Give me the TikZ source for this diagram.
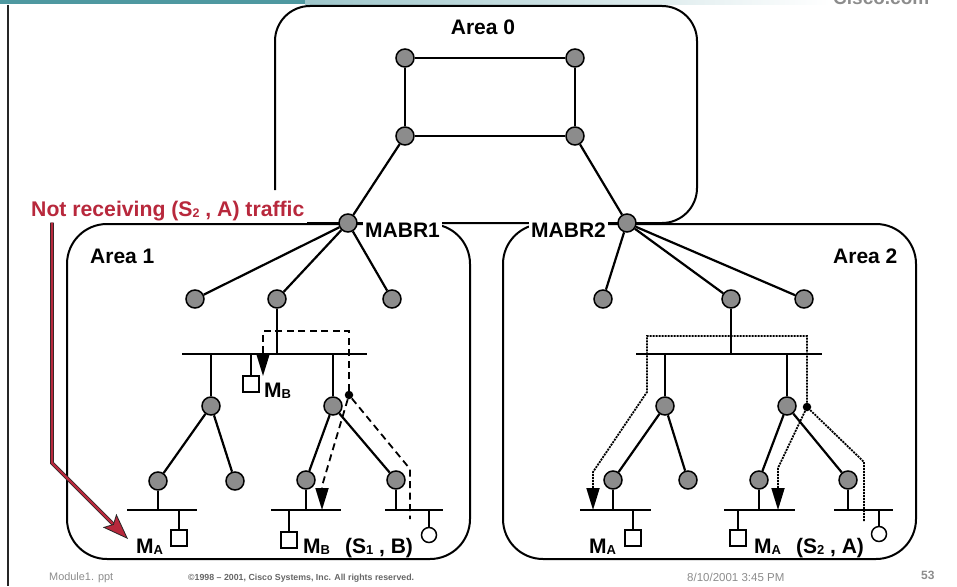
\documentclass[tikz,border=0pt]{standalone}
\usepackage{fontspec}
\setmainfont{Liberation Sans}
\usetikzlibrary{arrows.meta}
\definecolor{rtrfill}{HTML}{8C8C8C}
\definecolor{alertred}{HTML}{B8283C}
\definecolor{banner}{HTML}{4E98A0}
\definecolor{footgray}{HTML}{8C8C8C}
% lowered small index for labels such as M_A, S_1
\newcommand{\lowsub}[1]{\raisebox{-1pt}{\fontsize{13}{13}\selectfont #1}}

\begin{document}
\begin{tikzpicture}[x=1pt, y=-1pt,
  boxline/.style={draw=black, line width=2pt},
  wire/.style={draw=black, line width=2.2pt},
  rtr/.style={circle, draw=black, line width=1.5pt, fill=rtrfill, minimum size=18pt, inner sep=0pt},
  hostsq/.style={rectangle, draw=black, line width=1.5pt, fill=white, minimum size=16pt, inner sep=0pt},
  hostsrc/.style={circle, draw=black, line width=1.5pt, fill=white, minimum size=15pt, inner sep=0pt},
  junct/.style={circle, fill=black, minimum size=8.5pt, inner sep=0pt},
  bigtxt/.style={font=\fontsize{21}{25}\selectfont\bfseries, inner sep=0pt},
  boxtag/.style={bigtxt, fill=white, inner xsep=2pt, inner ysep=2pt},
  flowdash/.style={line width=1.8pt, dash pattern=on 7pt off 4.5pt},
  flowdot/.style={line width=1.8pt, dash pattern=on 2pt off 1pt},
  tipped/.style={-{Triangle[length=22pt,width=13pt]}},
  foottxt/.style={text=footgray, inner sep=0pt, anchor=base west}
]
\useasboundingbox (0,0) rectangle (957,586);

% ---- slide frame ----
\fill[banner] (0,0) rectangle (305,4.5);
\shade[left color=banner!55, right color=white] (305,0) rectangle (830,5);
\begin{scope}
  \clip (820,0) rectangle (957,7);
  \node[anchor=base west, inner sep=0pt, text=footgray, font=\fontsize{19}{22}\selectfont\bfseries] (site) at (833,5) {Cisco.com};
\end{scope}
\draw[line width=1.5pt, black!85] (8,5) -- (8,586);

% ---- area outlines ----
\draw[boxline, rounded corners=35pt] (275,190) -- (275,6) -- (697,6) -- (697,223) -- (307,223);
\draw[boxline, rounded corners=40pt] (67,224) rectangle (470,559);
\draw[boxline, rounded corners=40pt] (503,224) rectangle (916,559);

% ---- area and border-router labels ----
\node[bigtxt, anchor=base] (ar0) at (483,35) {Area 0};
\node[bigtxt, anchor=base west] (ar1) at (90,263) {Area 1};
\node[bigtxt, anchor=base west] (ar2) at (833,263) {Area 2};
\node[boxtag, anchor=base west] (lm1) at (363,237) {MABR1};
\node[boxtag, anchor=base west] (lm2) at (529,237) {MABR2};
\node[anchor=base west, fill=white, inner xsep=2pt, inner ysep=2pt, text=alertred,
      font=\fontsize{21.2}{25}\selectfont\bfseries] (nr) at (29,216)
      {Not receiving (S{\raisebox{-1pt}{\fontsize{12.5}{12}\selectfont 2}} , A) traffic};

% ---- routers ----
\node[rtr] (a0tl) at (405,58) {};
\node[rtr] (a0tr) at (575,58) {};
\node[rtr] (a0bl) at (405,136) {};
\node[rtr] (a0br) at (575,136) {};
\node[rtr] (mabr1) at (348,223) {};
\node[rtr] (mabr2) at (627,223) {};

\node[rtr] (r1a) at (195,299) {};
\node[rtr] (r1b) at (277,299) {};
\node[rtr] (r1c) at (392,299) {};
\node[rtr] (r11) at (211,406) {};
\node[rtr] (r12) at (333,406) {};
\node[rtr] (r111) at (158,481) {};
\node[rtr] (r112) at (235,481) {};
\node[rtr] (r121) at (306,480) {};
\node[rtr] (r122) at (396,480) {};

\node[rtr] (r2a) at (603,299) {};
\node[rtr] (r2b) at (731,299) {};
\node[rtr] (r2c) at (804,299) {};
\node[rtr] (r21) at (665,406) {};
\node[rtr] (r22) at (787,406) {};
\node[rtr] (r211) at (613,480) {};
\node[rtr] (r212) at (688,480) {};
\node[rtr] (r221) at (759,480) {};
\node[rtr] (r222) at (848,480) {};

% ---- hosts ----
\node[hostsq] (hb1) at (251,384) {};
\node[hostsq] (ha1) at (179,538) {};
\node[hostsq] (hb2) at (289,540) {};
\node[hostsrc] (src1) at (429,535) {};
\node[hostsq] (ha2) at (633,538) {};
\node[hostsq] (ha3) at (738,538) {};
\node[hostsrc] (src2) at (879,534) {};

% ---- LAN segments ----
\coordinate (b1w) at (182,354);  \coordinate (b1e) at (367,354);
\coordinate (b2w) at (127,510);  \coordinate (b2e) at (197,510);
\coordinate (b3w) at (271,510);  \coordinate (b3e) at (341,510);
\coordinate (b4w) at (385,510);  \coordinate (b4e) at (443,510);
\coordinate (b5w) at (636,354);  \coordinate (b5e) at (822,354);
\coordinate (b6w) at (580,510);  \coordinate (b6e) at (651,510);
\coordinate (b7w) at (724,510);  \coordinate (b7e) at (795,510);
\coordinate (b8w) at (834,510);  \coordinate (b8e) at (893,510);
\foreach \s in {1,...,8} { \draw[wire] (b\s w) -- (b\s e); }

% ---- links ----
\draw[wire] (a0tl) -- (a0tr);
\draw[wire] (a0tl) -- (a0bl);
\draw[wire] (a0tr) -- (a0br);
\draw[wire] (a0bl) -- (a0br);
\draw[wire] (a0bl) -- (mabr1);
\draw[wire] (a0br) -- (mabr2);

\draw[wire] (mabr1) -- (r1a);
\draw[wire] (mabr1) -- (r1b);
\draw[wire] (mabr1) -- (r1c);
\draw[wire] (r1b) -- (r1b |- b1w);
\draw[wire] (r11) -- (r11 |- b1w);
\draw[wire] (r12) -- (r12 |- b1w);
\draw[wire] (hb1) -- (hb1 |- b1w);
\draw[wire] (r11) -- (r111);
\draw[wire] (r11) -- (r112);
\draw[wire] (r12) -- (r121);
\draw[wire] (r12) -- (r122);
\draw[wire] (r111) -- (r111 |- b2w);
\draw[wire] (ha1) -- (ha1 |- b2w);
\draw[wire] (r121) -- (r121 |- b3w);
\draw[wire] (hb2) -- (hb2 |- b3w);
\draw[wire] (r122) -- (r122 |- b4w);
\draw[wire] (src1) -- (src1 |- b4w);

\draw[wire] (mabr2) -- (r2a);
\draw[wire] (mabr2) -- (r2b);
\draw[wire] (mabr2) -- (r2c);
\draw[wire] (r2b) -- (r2b |- b5w);
\draw[wire] (r21) -- (r21 |- b5w);
\draw[wire] (r22) -- (r22 |- b5w);
\draw[wire] (r21) -- (r211);
\draw[wire] (r21) -- (r212);
\draw[wire] (r22) -- (r221);
\draw[wire] (r22) -- (r222);
\draw[wire] (r211) -- (r211 |- b6w);
\draw[wire] (ha2) -- (ha2 |- b6w);
\draw[wire] (r221) -- (r221 |- b7w);
\draw[wire] (ha3) -- (ha3 |- b7w);
\draw[wire] (r222) -- (r222 |- b8w);
\draw[wire] (src2) -- (src2 |- b8w);

% ---- (S1,B) traffic in area 1 ----
\node[junct] (j1) at (349,395) {};
\coordinate (d1a) at (263,331);
\coordinate (d1b) at (349,331);
\coordinate (t1) at (263,376);
\coordinate (d1c) at (322,486);
\coordinate (t2) at (322,510);
\coordinate (d1d) at (410,469);
\coordinate (d1e) at (410,519);
\draw[flowdash, tipped] (j1) -- (d1b) -- (d1a) -- (t1);
\draw[flowdash, tipped] (j1) -- (d1c) -- (t2);
\draw[flowdash] (j1) -- (d1d) -- (d1e);

% ---- (S2,A) traffic in area 2 ----
\node[junct] (j2) at (807,407) {};
\coordinate (e1) at (647,336);
\coordinate (e2) at (807,336);
\coordinate (e3) at (647,392);
\coordinate (e4) at (593,472);
\coordinate (t3) at (593,510);
\coordinate (e5) at (778,468);
\coordinate (t4) at (778,510);
\coordinate (e6) at (864,462);
\coordinate (e7) at (864,522);
\draw[flowdot, tipped] (j2) -- (e2) -- (e1) -- (e3) -- (e4) -- (t3);
\draw[flowdot, tipped] (j2) -- (e5) -- (t4);
\draw[flowdot] (j2) -- (e6) -- (e7);

% ---- host labels ----
\node[bigtxt, anchor=base west] (lmb1) at (264,397) {M\lowsub{B}};
\node[bigtxt, anchor=base west] (lma1) at (136,553) {M\lowsub{A}};
\node[bigtxt, anchor=base west] (lmb2) at (303,553) {M\lowsub{B}\hspace{15pt}(S\lowsub{1} , B)};
\node[bigtxt, anchor=base west] (lma2) at (589,553) {M\lowsub{A}};
\node[bigtxt, anchor=base west] (lma3) at (754,553) {M\lowsub{A}\hspace{15pt}(S\lowsub{2} , A)};

% ---- callout arrow ----
\coordinate (rk) at (52,463);
\coordinate (rtip) at (128,539);
\draw[line width=3.8pt, black!85, shorten >=14pt] (nr.south -| rk) -- (rk) -- (rtip);
\draw[line width=2.2pt, alertred,
  -{Stealth[length=26pt, width=19pt, inset=5pt, fill=alertred, color=black!85, line width=0.8pt]}]
  (nr.south -| rk) -- (rk) -- (rtip);

% ---- footer ----
\node[foottxt, font=\fontsize{10.9}{12}\selectfont] (fmod) at (49,580) {Module1. ppt};
\node[foottxt, text=black!60, font=\fontsize{8.8}{10}\selectfont\bfseries] (fcopy) at (188,580)
  {\textcopyright 1998 – 2001, Cisco Systems, Inc. All rights reserved.};
\node[foottxt, font=\fontsize{11.5}{13}\selectfont] (fdate) at (687,581) {8/10/2001 3:45 PM};
\node[foottxt, font=\fontsize{12}{14}\selectfont\bfseries] (fpage) at (921,579) {53};
\end{tikzpicture}
\end{document}
